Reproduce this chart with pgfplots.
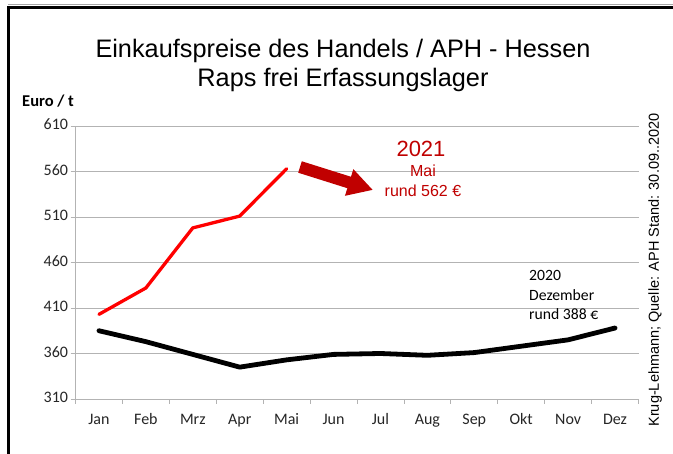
\documentclass[border=0pt]{standalone}
\usepackage{pgfplots}
\pgfplotsset{compat=1.18}
\usepackage{fontspec}
\setmainfont{Carlito}
\newfontfamily\arial{Liberation Sans}
\usetikzlibrary{arrows.meta}
\definecolor{darkred}{HTML}{C00000}
\definecolor{gridgray}{HTML}{B3B3B3}
\begin{document}
\begin{tikzpicture}[x=1pt,y=1pt]
\useasboundingbox (0,0) rectangle (673,454);
\fill[white] (0,0) rectangle (673,454);
\draw[black!35, line width=1pt] (8,449) -- (673,449);
\draw[line width=3pt] (8.5,0) -- (8.5,446) -- (673,446);
\begin{axis}[at={(75.5pt,55pt)}, anchor=south west, scale only axis,
  width=563pt, height=273pt,
  xmin=-0.5, xmax=11.5, ymin=310, ymax=610,
  ytick={310,360,...,610},
  xtick={0,...,11},
  xticklabels={Jan,Feb,Mrz,Apr,Mai,Jun,Jul,Aug,Sep,Okt,Nov,Dez},
  minor xtick={-0.5,0.5,...,11.5},
  axis x line*=bottom, axis y line*=left,
  tick align=outside,
  major tick length=5pt, minor tick length=5pt,
  major x tick style={draw=none},
  minor x tick style={gridgray, line width=0.8pt},
  y tick style={gridgray, line width=0.8pt},
  ymajorgrids, grid style={gridgray, line width=0.8pt},
  axis line style={gridgray, line width=0.8pt},
  /pgf/number format/assume math mode=true,
  tick label style={font=\fontsize{16}{18}\selectfont, text=black!85},
  yticklabel style={xshift=1pt},
  typeset ticklabels with strut,
  xticklabel style={yshift=-4pt},
  clip=false,
]
\addplot[red, line width=3.3pt, line join=round, line cap=round] coordinates {
 (0,403) (1,432) (2,498) (3,511) (4,563)};
\addplot[black, line width=4.8pt, line join=round, line cap=round] coordinates {
 (0,385) (1,373) (2,359) (3,345) (4,353) (5,359) (6,360) (7,358) (8,361) (9,368) (10,375) (11,388)};
\end{axis}
% titles
\node[font=\arial\fontsize{25.3}{30}\selectfont] at (343,454-51) {Einkaufspreise des Handels / APH - Hessen};
\node[font=\arial\fontsize{25.3}{30}\selectfont] at (343,454-80) {Raps frei Erfassungslager};
\node[font=\bfseries\fontsize{16.5}{18}\selectfont, anchor=west, inner sep=0pt] at (22,454-101) {Euro / t};
% right source text
\node[font=\arial\fontsize{14.5}{17}\selectfont, rotate=90] at (655,454-270) {Krug-Lehmann; Quelle: APH Stand: 30.09..2020};
% arrow
\draw[darkred, line width=12pt, -{Triangle[width=26pt,length=25pt]}] (300,454-167) -- (373,454-190);
% 2021 annotation
\node[darkred, font=\arial\fontsize{22}{26}\selectfont] at (421,454-149) {2021};
\node[darkred, font=\arial\fontsize{16}{19}\selectfont] at (423,454-171) {Mai};
\node[darkred, font=\arial\fontsize{16}{19}\selectfont] at (423,454-191) {rund 562 €};
% 2020 annotation
\node[font=\fontsize{15.7}{18}\selectfont, anchor=west, inner sep=0pt] at (529,454-275) {2020};
\node[font=\fontsize{15.7}{18}\selectfont, anchor=west, inner sep=0pt] at (529,454-295) {Dezember};
\node[font=\fontsize{15.7}{18}\selectfont, anchor=west, inner sep=0pt] at (529,454-314) {rund 388 €};
\end{tikzpicture}
\end{document}
